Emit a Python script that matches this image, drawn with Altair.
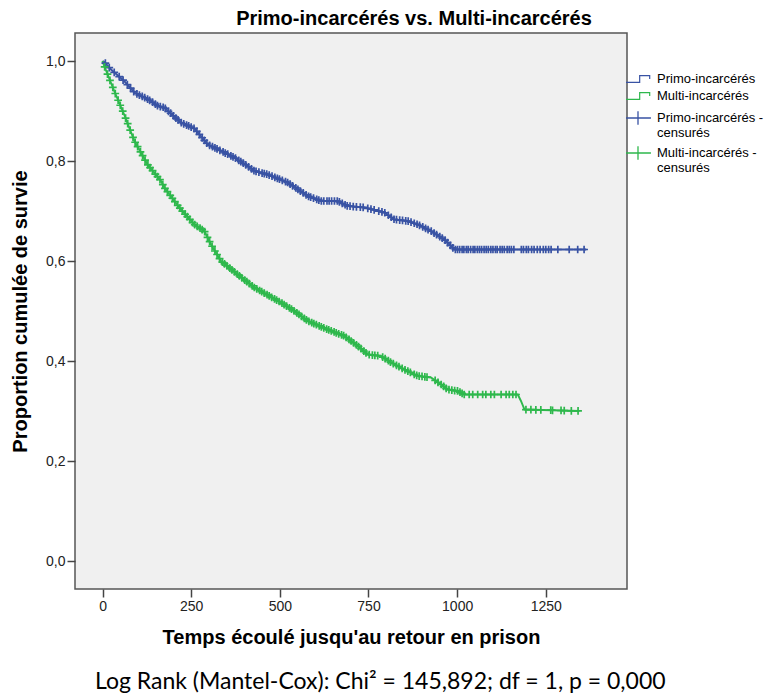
import altair as alt
import numpy as np
import pandas as pd

BLUE = "#3953A4"
GREEN = "#2EB84C"

CURVES = ["Primo-incarcérés", "Multi-incarcérés"]
CENSORED = ["Primo-incarcérés - censurés", "Multi-incarcérés - censurés"]

X_TICKS = [0, 250, 500, 750, 1000, 1250]
Y_TICKS = [0.0, 0.2, 0.4, 0.6, 0.8, 1.0]

# Kaplan-Meier curve (Primo-incarcérés)
primo_t = [0, 5, 24, 61, 90, 137, 156, 174, 221, 259, 297, 315, 343, 372, 409, 428,
           466, 522, 579, 616, 663, 691, 738, 795, 823, 861, 889, 926, 964, 983, 992, 1364]
primo_s = [1.0, 0.998, 0.983, 0.96, 0.937, 0.92, 0.91, 0.907, 0.877, 0.865, 0.833, 0.827,
           0.817, 0.807, 0.79, 0.78, 0.773, 0.757, 0.73, 0.72, 0.72, 0.71, 0.707, 0.697,
           0.683, 0.68, 0.673, 0.66, 0.643, 0.63, 0.623, 0.623]

# Kaplan-Meier curve (Multi-incarcérés)
multi_t = [0, 1, 33, 61, 90, 127, 165, 174, 221, 259, 287, 306, 334, 381, 428, 503, 541,
           579, 635, 682, 720, 748, 785, 814, 851, 889, 926, 955, 973, 1002, 1020, 1171,
           1180, 1190, 1345]
multi_s = [1.0, 0.997, 0.94, 0.893, 0.84, 0.793, 0.76, 0.747, 0.703, 0.673, 0.66, 0.633,
           0.6, 0.573, 0.547, 0.517, 0.5, 0.48, 0.463, 0.45, 0.43, 0.413, 0.41, 0.397,
           0.383, 0.37, 0.367, 0.353, 0.343, 0.34, 0.333, 0.333, 0.32, 0.303, 0.30]

# censoring times
primo_cens = [8, 19, 33, 47, 58, 70, 79, 88, 97, 104, 112, 119, 127, 133, 141, 149, 155,
              163, 171, 177, 186, 192, 200, 207, 213, 222, 229, 237, 243, 250, 258, 266,
              273, 281, 287, 294, 302, 310, 317, 323, 331, 340, 346, 353, 362, 368, 375,
              384, 390, 397, 404, 412, 420, 427, 433, 441, 450, 456, 463, 470, 478, 486,
              493, 499, 507, 516, 522, 529, 536, 545, 551, 558, 566, 574, 581, 587, 595,
              604, 610, 617, 624, 633, 639, 646, 654, 662, 668, 676, 684, 690, 698, 707,
              716, 727, 735, 748, 757, 766, 779, 788, 796, 806, 814, 822, 829, 838, 846,
              855, 862, 870, 879, 887, 894, 903, 911, 918, 927, 935, 942, 951, 958, 966,
              973, 981, 988, 995, 1001, 1007, 1014, 1019, 1026, 1031, 1038, 1045, 1050,
              1057, 1063, 1069, 1076, 1082, 1088, 1095, 1101, 1108, 1113, 1121, 1127,
              1133, 1141, 1147, 1153, 1160, 1181, 1187, 1195, 1201, 1210, 1217, 1226,
              1234, 1243, 1250, 1258, 1265, 1284, 1316, 1340, 1358]
multi_cens = [6, 14, 21, 29, 36, 44, 50, 57, 65, 71, 78, 86, 92, 99, 107, 113, 120, 128,
              134, 141, 149, 155, 162, 170, 176, 183, 191, 197, 204, 212, 218, 225, 233,
              239, 246, 254, 260, 267, 275, 281, 288, 296, 302, 309, 317, 323, 330, 338,
              344, 351, 359, 365, 372, 380, 386, 393, 401, 407, 414, 422, 428, 435, 443,
              449, 456, 464, 470, 477, 485, 491, 498, 506, 512, 519, 527, 533, 540, 548,
              554, 561, 569, 575, 582, 590, 596, 603, 611, 617, 624, 632, 638, 645, 653,
              659, 666, 674, 680, 687, 695, 701, 708, 716, 722, 729, 737, 743, 752, 761,
              768, 776, 790, 797, 806, 812, 820, 829, 836, 845, 853, 861, 868, 879, 886,
              893, 901, 909, 915, 938, 946, 955, 962, 969, 977, 985, 993, 1001, 1008,
              1014, 1020, 1034, 1044, 1058, 1072, 1081, 1095, 1105, 1124, 1138, 1147,
              1157, 1166, 1194, 1208, 1222, 1236, 1264, 1269, 1293, 1302, 1322, 1341]

curve_df = pd.DataFrame({
    "t": primo_t + multi_t,
    "s": primo_s + multi_s,
    "serie": [CURVES[0]] * len(primo_t) + [CURVES[1]] * len(multi_t),
})
cens_df = pd.DataFrame({
    "t": primo_cens + multi_cens,
    "s": list(np.interp(primo_cens, primo_t, primo_s)) + list(np.interp(multi_cens, multi_t, multi_s)),
    "cens": [CENSORED[0]] * len(primo_cens) + [CENSORED[1]] * len(multi_cens),
})

FONT = "Liberation Sans"
STEP_SYMBOL = "M-1.71,0.47H0.24V-0.47H1.67V0"
CROSS_SYMBOL = "M-1.71,0H1.85M0,-0.95V0.95"

x_enc = alt.X("t:Q",
              scale=alt.Scale(domain=[-77.6, 1479], nice=False, zero=False),
              axis=alt.Axis(values=X_TICKS, format="d", title="Temps écoulé jusqu'au retour en prison",
                            tickSize=8, tickWidth=1.5, tickColor="#444", labelFont=FONT,
                            labelFontSize=14, labelColor="#222", labelPadding=2, domain=False,
                            grid=False, titleFont=FONT, titleFontSize=20, titleFontWeight="bold",
                            titleColor="#000", titlePadding=14))
y_enc = alt.Y("s:Q",
              scale=alt.Scale(domain=[-0.056, 1.056], nice=False, zero=False),
              axis=alt.Axis(values=Y_TICKS,
                            labelExpr="replace(format(datum.value, '.1f'), '.', ',')",
                            title="Proportion cumulée de survie",
                            tickSize=8, tickWidth=1.5, tickColor="#444", labelFont=FONT,
                            labelFontSize=14, labelColor="#222", labelPadding=2, domain=False,
                            grid=False, titleFont=FONT, titleFontSize=20, titleFontWeight="bold",
                            titleColor="#000", titlePadding=15))

LABEL_EXPR = ("indexof(datum.label, ' - ') > 0 ? "
              "[replace(datum.label, ' censurés', ''), 'censurés'] : datum.label")

step_legend = alt.Legend(
    title=None, orient="none", legendX=555, legendY=38, padding=0,
    symbolType=STEP_SYMBOL, symbolSize=196, labelOffset=11, rowPadding=2,
    symbolFillColor="transparent", symbolStrokeWidth=1.2, symbolOpacity=1,
    labelFont=FONT, labelFontSize=13, labelColor="#000", labelLimit=300,
)
cross_legend = alt.Legend(
    title=None, orient="none", legendX=555, legendY=77, padding=0,
    symbolType=CROSS_SYMBOL, symbolSize=196, labelOffset=11, rowPadding=3,
    symbolStrokeWidth=1.3, symbolOpacity=1,
    labelFont=FONT, labelFontSize=13, labelColor="#000", labelLimit=300,
    labelExpr=LABEL_EXPR,
)

lines = alt.Chart(curve_df).mark_line(strokeWidth=1.9).encode(
    x=x_enc, y=y_enc,
    stroke=alt.Stroke("serie:N", scale=alt.Scale(domain=CURVES, range=[BLUE, GREEN]),
                      legend=step_legend))
crosses = alt.Chart(cens_df).mark_point(
    shape="M-1,0H1M0,-1V1", size=60, filled=False, strokeWidth=1.7, opacity=1
).encode(
    x=x_enc, y=y_enc,
    color=alt.Color("cens:N", scale=alt.Scale(domain=CENSORED, range=[BLUE, GREEN]),
                    legend=cross_legend))

main = alt.layer(lines, crosses).resolve_scale(color="independent", stroke="independent").properties(
    width=552, height=556,
    title=alt.TitleParams("Primo-incarcérés vs. Multi-incarcérés", font=FONT, fontSize=20,
                          fontWeight="bold", color="#000", anchor="middle", dx=63, offset=4),
)

chart = alt.vconcat(main).properties(
    title=alt.TitleParams("Log Rank (Mantel-Cox): Chi² = 145,892; df = 1, p = 0,000",
                          orient="bottom", font="Lato", fontSize=23, fontWeight="normal",
                          color="#000", anchor="middle", offset=23, dx=-7),
    padding={"left": 1, "top": 0, "right": 0, "bottom": 0},
).configure_view(fill="#f0f0f0", stroke="#555", strokeWidth=1.5)

chart.save("out.html", embed_options={"renderer": "svg", "actions": False})
